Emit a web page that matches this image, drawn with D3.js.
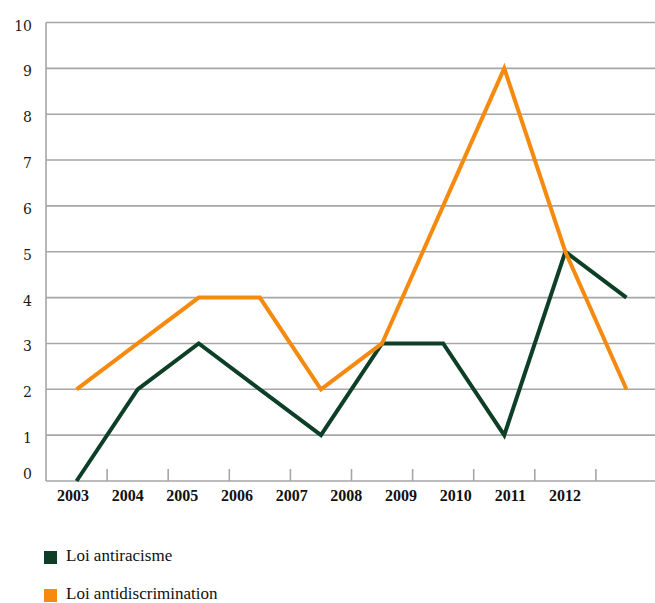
<!DOCTYPE html>
<html>
<head>
<meta charset="utf-8">
<script src="https://cdn.jsdelivr.net/npm/d3@7"></script>
<style>
  body { margin: 0; background: #fff; }
</style>
</head>
<body>
<div id="chart"></div>
<script>
// chart data
var years = ["2003", "2004", "2005", "2006", "2007", "2008", "2009", "2010", "2011", "2012"];
var antiracisme = [0, 2, 3, 2, 1, 3, 3, 1, 5, 4];
var antidiscrimination = [2, 3, 4, 4, 2, 3, 6, 9, 5, 2];
var yTicks = [0, 1, 2, 3, 4, 5, 6, 7, 8, 9, 10];
var seriesNames = ["Loi antiracisme", "Loi antidiscrimination"];

var width = 655, height = 603;
var colors = ["#0c3f26", "#f68a0f"];

var svg = d3.select("#chart").append("svg")
    .attr("width", width)
    .attr("height", height);

// scales
var x = d3.scaleBand().domain(years).range([46, 657]);
var y = d3.scaleLinear().domain([0, 10]).range([481, 22.5]);
// year labels in the original sit on their own spacing, not under the bands
var xLabel = d3.scalePoint().domain(years).range([73, 565]);

// horizontal grid lines
svg.append("g")
    .selectAll("line")
    .data(yTicks.slice(1))
    .enter()
    .append("line")
    .attr("x1", 46)
    .attr("x2", width)
    .attr("y1", d => y(d))
    .attr("y2", d => y(d))
    .attr("stroke", "#a6a6a6")
    .attr("stroke-width", 1.6);

// y axis line and x axis line
svg.append("line")
    .attr("x1", 46).attr("x2", 46)
    .attr("y1", y(10)).attr("y2", y(0))
    .attr("stroke", "#a6a6a6").attr("stroke-width", 1.6);
svg.append("line")
    .attr("x1", 46).attr("x2", width)
    .attr("y1", y(0)).attr("y2", y(0))
    .attr("stroke", "#a6a6a6").attr("stroke-width", 1.6);

// tick marks at band boundaries
svg.append("g")
    .selectAll("line")
    .data(years.slice(1))
    .enter()
    .append("line")
    .attr("x1", d => x(d))
    .attr("x2", d => x(d))
    .attr("y1", y(0) - 12)
    .attr("y2", y(0))
    .attr("stroke", "#a6a6a6")
    .attr("stroke-width", 1.6);

// y labels
svg.append("g")
    .selectAll("text")
    .data(yTicks)
    .enter()
    .append("text")
    .attr("x", 32)
    .attr("y", d => d == 0 ? y(d) - 2 : y(d) + 8)
    .attr("text-anchor", "end")
    .style("font-family", "DejaVu Serif")
    .style("font-size", "14px")
    .attr("fill", "#1a1a1a")
    .text(d => d);

// x labels
svg.append("g")
    .selectAll("text")
    .data(years)
    .enter()
    .append("text")
    .attr("x", d => xLabel(d))
    .attr("y", 501)
    .attr("text-anchor", "middle")
    .style("font-family", "Liberation Serif")
    .style("font-size", "16px")
    .style("font-weight", "bold")
    .attr("fill", "#111")
    .text(d => d);

// lines
var line = d3.line()
    .x((d, i) => x(years[i]) + x.bandwidth() / 2)
    .y(d => y(d));

[antiracisme, antidiscrimination].forEach(function (series, k) {
    svg.append("path")
        .datum(series)
        .attr("fill", "none")
        .attr("stroke", colors[k])
        .attr("stroke-width", 4)
        .attr("stroke-linejoin", "miter")
        .attr("d", line);
});

// legend
var legend = svg.append("g")
    .selectAll("g")
    .data(seriesNames)
    .enter()
    .append("g")
    .attr("transform", (d, i) => "translate(44," + (551 + i * 38) + ")");

legend.append("rect")
    .attr("width", 13)
    .attr("height", 13)
    .attr("fill", (d, i) => colors[i]);

legend.append("text")
    .attr("x", 22)
    .attr("y", 10)
    .style("font-family", "Times New Roman")
    .style("font-size", "17px")
    .attr("fill", "#111")
    .text(d => d);
</script>
</body>
</html>
